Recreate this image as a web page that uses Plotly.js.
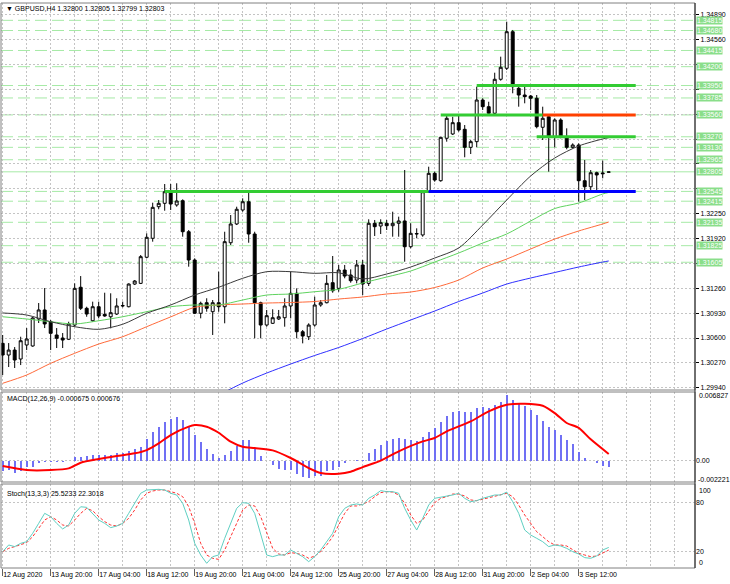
<!DOCTYPE html>
<html><head><meta charset="utf-8">
<script src="https://cdn.plot.ly/plotly-3.0.1.min.js"></script>
<style>html,body{margin:0;padding:0;background:#fff}#chart{width:730px;height:584px}</style>
</head><body><div id="chart"></div>
<script>
// ---------- DATA ----------
const symbolTitle = '\u25BC GBPUSD,H4 1.32800 1.32805 1.32799 1.32803';
const macdTitle = 'MACD(12,26,9) -0.000675 0.000676';
const stochTitle = 'Stoch(13,3,3) 25.5233 22.3018';
const timeLabels = ['12 Aug 2020','13 Aug 20:00','17 Aug 04:00','18 Aug 12:00','19 Aug 20:00','21 Aug 04:00','24 Aug 12:00','25 Aug 20:00','27 Aug 04:00','28 Aug 12:00','31 Aug 20:00','2 Sep 04:00','3 Sep 12:00'];

const open = [1.30529,1.30374,1.30440,1.30321,1.30507,1.30494,1.30852,1.30972,1.30816,1.30640,
1.30600,1.30583,1.30772,1.31273,1.30994,1.30829,1.31015,1.30914,1.30882,1.30918,
1.31025,1.31015,1.31316,1.31325,1.31671,1.31923,1.32342,1.32387,1.32541,1.32365,
1.32422,1.32010,1.31635,1.30928,1.31068,1.30949,1.31068,1.31015,1.31864,1.32113,
1.32298,1.32408,1.31980,1.31068,1.30772,1.30795,1.30852,1.30869,1.31025,1.31193,
1.30683,1.30617,1.30772,1.31038,1.31068,1.31334,1.31259,1.31502,1.31436,1.31369,
1.31569,1.31325,1.32122,1.32086,1.32122,1.32090,1.32122,1.32153,1.31811,1.31980,
1.31967,1.32541,1.32785,1.32687,1.33250,1.33307,1.33457,1.33369,1.33130,1.33205,
1.33758,1.33669,1.33582,1.34033,1.34179,1.34664,1.33913,1.33824,1.33811,1.33781,
1.33396,1.33536,1.33271,1.33493,1.33271,1.33130,1.33161,1.32687,1.32607,1.32793,
1.32790,1.32800];
const high = [1.30640,1.30533,1.30480,1.30617,1.30732,1.30882,1.31064,1.31263,1.30839,1.30732,
1.30666,1.30816,1.31325,1.31422,1.31015,1.31082,1.31082,1.31201,1.31193,1.31127,
1.31082,1.31325,1.31369,1.31701,1.31989,1.32395,1.32431,1.32643,1.32643,1.32653,
1.32440,1.32033,1.31657,1.31082,1.31127,1.31104,1.31480,1.32010,1.32232,1.32342,
1.32453,1.32528,1.32010,1.31082,1.30972,1.30981,1.30972,1.31127,1.31480,1.31259,
1.30706,1.30795,1.31148,1.31104,1.31436,1.31688,1.31569,1.31569,1.31511,1.31635,
1.31635,1.32175,1.32166,1.32175,1.32166,1.32276,1.32210,1.32829,1.32122,1.32055,
1.32564,1.32873,1.32807,1.33271,1.33546,1.33536,1.33546,1.33426,1.33227,1.33935,
1.33781,1.33735,1.34120,1.34333,1.34797,1.34687,1.33944,1.33957,1.33824,1.33824,
1.33669,1.33559,1.33515,1.33515,1.33382,1.33183,1.33183,1.32962,1.32829,1.32807,
1.32953,1.32805];
const low = [1.30109,1.30215,1.30202,1.30241,1.30440,1.30484,1.30799,1.30732,1.30440,1.30467,
1.30467,1.30573,1.30750,1.30972,1.30882,1.30816,1.30861,1.30882,1.30728,1.30905,
1.31007,1.31007,1.31303,1.31316,1.31657,1.31878,1.32308,1.32289,1.32298,1.32342,
1.31944,1.31546,1.30918,1.30861,1.30949,1.30640,1.30949,1.30795,1.31834,1.32099,
1.32276,1.31864,1.30596,1.30596,1.30750,1.30786,1.30839,1.30750,1.30861,1.30596,
1.30529,1.30573,1.30750,1.31015,1.31060,1.31201,1.31214,1.31392,1.31334,1.31325,
1.31170,1.31290,1.31953,1.31980,1.32033,1.31944,1.31944,1.31612,1.31790,1.31923,
1.31944,1.32528,1.32674,1.32674,1.33205,1.33294,1.33338,1.32998,1.33041,1.33130,
1.33625,1.33559,1.33559,1.34014,1.34156,1.33847,1.33669,1.33714,1.33625,1.33382,
1.33227,1.32807,1.33130,1.33250,1.33104,1.33117,1.32408,1.32431,1.32541,1.32541,
1.32719,1.32799];
const close = [1.30374,1.30440,1.30308,1.30564,1.30587,1.30865,1.30972,1.30786,1.30662,1.30596,
1.30573,1.30786,1.31259,1.30994,1.30918,1.31015,1.30892,1.30892,1.30936,1.31025,
1.31030,1.31316,1.31356,1.31679,1.31936,1.32334,1.32387,1.32541,1.32378,1.32418,
1.32010,1.31635,1.30928,1.31060,1.30994,1.31068,1.31015,1.31878,1.32113,1.32308,
1.32408,1.31980,1.31068,1.30772,1.30896,1.30869,1.30882,1.31025,1.31193,1.30683,
1.30626,1.30772,1.31038,1.31068,1.31325,1.31227,1.31502,1.31422,1.31360,1.31569,
1.31316,1.32122,1.32077,1.32130,1.32090,1.32122,1.32153,1.31811,1.31989,1.31985,
1.32541,1.32785,1.32696,1.33263,1.33515,1.33457,1.33360,1.33130,1.33205,1.33758,
1.33669,1.33582,1.34033,1.34192,1.34664,1.33935,1.33824,1.33802,1.33781,1.33404,
1.33515,1.33271,1.33493,1.33271,1.33130,1.33161,1.32687,1.32607,1.32793,1.32763,
1.32780,1.32803];

// moving averages read at sampled bars
const maIdx = [0,4,8,12,16,20,24,28,32,36,40,44,48,52,56,60,64,68,72,76,80,84,88,92,96,100,101];
const maBlack = [1.30932,1.30905,1.30816,1.30750,1.30715,1.30782,1.30928,1.31038,1.31170,1.31273,1.31392,1.31480,1.31480,1.31458,1.31466,1.31383,1.31449,1.31542,1.31661,1.31794,1.32099,1.32431,1.32750,1.32988,1.33148,1.33241,1.33258];
const maGreen = [1.30882,1.30852,1.30816,1.30786,1.30829,1.30882,1.30949,1.31015,1.31038,1.31038,1.31104,1.31170,1.31184,1.31214,1.31246,1.31330,1.31409,1.31489,1.31608,1.31728,1.31860,1.31980,1.32153,1.32318,1.32391,1.32511,1.32531];
const maOrange = [1.29999,1.30109,1.30264,1.30397,1.30520,1.30617,1.30750,1.30880,1.31007,1.31038,1.31051,1.31064,1.31071,1.31084,1.31117,1.31144,1.31184,1.31210,1.31270,1.31369,1.31529,1.31648,1.31781,1.31913,1.32020,1.32113,1.32139];
const maBlueIdx = [36,40,44,48,52,56,60,64,68,72,76,80,84,88,92,96,100,101];
const maBlue = [1.29843,1.30002,1.30135,1.30255,1.30368,1.30474,1.30593,1.30719,1.30839,1.30958,1.31084,1.31197,1.31316,1.31396,1.31469,1.31542,1.31608,1.31622];

// horizontal levels
const dashLevels = [1.34815,1.34680,1.34415,1.34200,1.33950,1.33785,1.33560,1.33270,1.33130,1.32965,1.32545,1.32415,1.32135,1.31825,1.31605];
const bidLevel = 1.32805;
const srPrice = [1.32545,1.32545,1.33560,1.33560,1.33950,1.33270];
const srFrom  = [27,71,73,90,79,89];
const srTo    = [71,105.5,90,105.5,105.5,105.5];
const srKind  = ['green','blue','green','red','green','green'];

// price axis ticks
const priceTick0 = 1.2994, priceTickStep = 0.0033, priceTickCount = 16;

// MACD
const macdHist = [-0.00100,-0.00094,-0.00127,-0.00100,-0.00067,-0.00067,-0.00027,-0.00013,-0.00010,-0.00013,
-0.00013,-0.00007,0.00034,0.00040,0.00047,0.00060,0.00060,0.00060,0.00057,0.00074,
0.00080,0.00094,0.00120,0.00141,0.00214,0.00285,0.00342,0.00392,0.00415,0.00436,
0.00409,0.00342,0.00258,0.00191,0.00114,0.00067,0.00027,0.00060,0.00100,0.00147,
0.00210,0.00210,0.00127,0.00050,0.00002,-0.00044,-0.00084,-0.00097,-0.00097,-0.00131,
-0.00164,-0.00174,-0.00157,-0.00151,-0.00107,-0.00090,-0.00064,-0.00023,-0.00007,0.00007,
0.00003,0.00077,0.00121,0.00161,0.00194,0.00218,0.00228,0.00218,0.00211,0.00198,
0.00238,0.00288,0.00328,0.00385,0.00452,0.00486,0.00503,0.00492,0.00492,0.00529,
0.00536,0.00533,0.00560,0.00586,0.00660,0.00610,0.00576,0.00549,0.00509,0.00459,
0.00402,0.00342,0.00308,0.00258,0.00211,0.00168,0.00090,0.00030,-0.00003,-0.00027,
-0.00054,-0.000675];
const macdSigIdx = [0,4,8,11,13,16,19,22,24,26,28,31,32,34,36,38,40,42,45,48,51,53,56,58,60,63,66,70,72,74,78,81,84,87,90,92,94,96,98,101];
const macdSig = [-0.00054,-0.00094,-0.00094,-0.00077,-0.00020,0.00017,0.00047,0.00074,0.00107,0.00174,
0.00258,0.00342,0.00358,0.00342,0.00281,0.00191,0.00140,0.00127,0.00104,0.00027,
-0.00074,-0.00124,-0.00131,-0.00111,-0.00064,0.00000,0.00094,0.00194,0.00228,0.00295,
0.00395,0.00496,0.00563,0.00573,0.00553,0.00479,0.00379,0.00330,0.00215,0.000676];
const macdMax = 0.006827, macdMin = -0.002221;

// Stochastic
const stochMain = [20.4,28.5,26.5,30.5,32.5,42.7,54.8,67,63,54.8,
48,52.8,67,75,74.3,67,58.9,54.8,49.6,51.6,
54.8,67,79.2,91.4,95.4,96.2,96.2,95.4,91.4,89.3,
79.2,58.9,30.5,16.3,6.2,14.3,16.3,36.6,54.8,73.1,
80,79.2,67,42.7,16.3,14.3,16.3,16.3,22.4,18.3,
14.3,8.2,14.3,22.4,32.5,42.7,63,73.1,77.1,78.4,
77.1,85.3,89.3,94.6,93.4,93.4,91.4,73.1,58.9,46.7,
60.9,77.1,85.3,86.5,87.3,89.3,91.4,85.3,81.2,82.4,
85.3,87.3,89.3,89.3,92.9,81.2,67,46.7,40.6,36.6,
32.5,26.5,28.5,27.3,24.4,20.4,17.5,13.1,12.3,15.1,
22.4,25.5233];
const stochSig = [20.4,24.4,26.5,28.5,31.3,38.6,48.8,58.9,63,58.9,
52.8,51.6,58.9,67,73.1,70.1,63,56.9,52.8,51.6,
54.8,60.9,71.1,83.3,91.4,94.2,95.4,95.4,93.4,91.4,
87.3,75.1,54.8,30.5,16.3,12.3,11,22.4,38.6,54.8,
71,77.1,76,63,42.7,24.4,17.5,16.3,19.1,18.3,
16.3,12.3,15.1,20.4,28.5,38.6,52.8,67,76,76,
78.4,81.2,87.3,92.2,93.4,92.9,89.3,79.2,65,54.8,
58.9,69,80,85.3,87.3,90.5,90.5,88.1,83.3,82.4,
84.1,86.5,88.1,89.3,91.4,87.3,77.1,65,54.8,44.6,
38.6,32.5,28.5,28.5,27.3,22.4,18.3,16.3,14.3,15.1,
18.3,22.3018];
const stochLevels = [20, 80];

// ---------- STYLE / LAYOUT ----------
const FONT = 'Liberation Sans, Arial, sans-serif';
const FS = 7;
const GRID = '#c4c4c4';
const GDASH = '2px,2px';
const srColors = {green:'#33cc33', blue:'#0000ff', red:'#ff4000'};
const xRange = [-0.28, 115.38];
const yRange = [1.29910, 1.35045];
const priceDom = [0.31504, 1], macdDom = [0.15221, 0.31150], stochDom = [0, 0.14867];

const bars = open.map((_, i) => i);
const gridStep = 4, labelEvery = 8;
const xTickVals = timeLabels.map((_, k) => k * labelEvery);
const xGridVals = [];
for (let v = 0; v <= xRange[1]; v += gridStep) xGridVals.push(v);

// price ticks; a tick label sitting under a level box is hidden by that box
const allLevels = dashLevels.concat([bidLevel]);
const pTickVals = [], pTickText = [];
for (let k = 0; k < priceTickCount; k++) {
  const v = +(priceTick0 + k * priceTickStep).toFixed(5);
  pTickVals.push(v);
  const covered = allLevels.some(l => Math.abs(l - v) < 0.00075);
  pTickText.push(covered ? '' : v.toFixed(5));
}

const traces = [];
traces.push({type:'candlestick', x:bars, open, high, low, close, xaxis:'x', yaxis:'y',
  increasing:{line:{color:'#000', width:1}, fillcolor:'#ffffff'},
  decreasing:{line:{color:'#000', width:1}, fillcolor:'#000000'},
  whiskerwidth:0, hoverinfo:'skip', showlegend:false});
const maLine = (x, y, c) => ({type:'scatter', mode:'lines', x, y, xaxis:'x', yaxis:'y',
  line:{color:c, width:1, shape:'spline', smoothing:0.8}, hoverinfo:'skip', showlegend:false});
traces.push(maLine(maBlueIdx, maBlue, '#3030ff'));
traces.push(maLine(maIdx, maOrange, '#ff6a3a'));
traces.push(maLine(maIdx, maGreen, '#5fd35f'));
traces.push(maLine(maIdx, maBlack, '#3a3a3a'));
srPrice.forEach((p, k) => traces.push({type:'scatter', mode:'lines', x:[srFrom[k], srTo[k]], y:[p, p],
  xaxis:'x', yaxis:'y', line:{color:srColors[srKind[k]], width:3}, hoverinfo:'skip', showlegend:false}));

traces.push({type:'bar', x:bars, y:macdHist, xaxis:'x', yaxis:'y2', width:0.36,
  marker:{color:'#7070f4', line:{width:0}}, hoverinfo:'skip', showlegend:false});
traces.push({type:'scatter', mode:'lines', x:macdSigIdx, y:macdSig, xaxis:'x', yaxis:'y2',
  line:{color:'#ff0000', width:2, shape:'spline', smoothing:0.7}, hoverinfo:'skip', showlegend:false});
traces.push({type:'scatter', mode:'lines', x:bars, y:stochSig, xaxis:'x', yaxis:'y3',
  line:{color:'#ff3030', width:1, dash:'3px,2px'}, hoverinfo:'skip', showlegend:false});
traces.push({type:'scatter', mode:'lines', x:bars, y:stochMain, xaxis:'x', yaxis:'y3',
  line:{color:'#5fcfc2', width:1}, hoverinfo:'skip', showlegend:false});

const shapes = [];
dashLevels.forEach(v => shapes.push({type:'line', xref:'paper', x0:0, x1:1, yref:'y', y0:v, y1:v,
  line:{color:'#a6eaa6', width:1, dash:'12px,5px'}, layer:'below'}));
shapes.push({type:'line', xref:'paper', x0:0, x1:1, yref:'y', y0:bidLevel, y1:bidLevel,
  line:{color:'#a6eaa6', width:1}, layer:'below'});
[priceDom, macdDom, stochDom].forEach(d => shapes.push({type:'rect', xref:'paper', yref:'paper',
  x0:0, x1:1, y0:d[0], y1:d[1], line:{color:'#808080', width:1}, fillcolor:'rgba(0,0,0,0)', layer:'above'}));
shapes.push({type:'line', xref:'paper', yref:'paper', x0:1, x1:1, y0:0, y1:1, line:{color:'#202020', width:1}, layer:'above'});

const annotations = [];
const txt = (text, x, y, xanchor, yanchor, extra) => Object.assign({text, x, y, xref:'paper', yref:'paper',
  xanchor, yanchor, showarrow:false, font:{family:FONT, size:FS, color:'#000'}}, extra || {});
annotations.push(txt(symbolTitle, 0.005, 0.9995, 'left', 'top'));
annotations.push(txt(macdTitle, 0.006, 0.3099, 'left', 'top'));
annotations.push(txt(stochTitle, 0.006, 0.1416, 'left', 'top'));
annotations.push(txt(macdMax.toFixed(6), 1, 0.30496, 'left', 'middle', {xshift:2}));
annotations.push(txt(macdMin.toFixed(6), 1, 0.15752, 'left', 'middle', {xshift:1}));
annotations.push(txt('100', 1, 0.13805, 'left', 'middle', {xshift:2}));
annotations.push(txt('0', 1, 0.00885, 'left', 'middle', {xshift:2}));
allLevels.forEach(v => annotations.push({text:v.toFixed(5), x:1, xref:'paper', y:v, yref:'y',
  xanchor:'left', yanchor:'middle', xshift:1, showarrow:false, bgcolor:'#8ade8a', borderpad:0,
  font:{family:FONT, size:FS, color:'#ffffff'}}));

const layout = {
  width:730, height:584, margin:{l:1, r:35, t:3, b:16, pad:0},
  paper_bgcolor:'#ffffff', plot_bgcolor:'#ffffff', showlegend:false,
  font:{family:FONT, size:FS, color:'#000'}, bargap:0,
  xaxis:{domain:[0,1], range:xRange, anchor:'y3', tickmode:'array', tickvals:xTickVals, ticktext:timeLabels,
    ticks:'outside', ticklen:7, tickcolor:'#606060', tickangle:0, ticklabelposition:'outside right', tickfont:{size:FS},
    showgrid:true, gridcolor:GRID, griddash:GDASH,
    minor:{tickmode:'array', tickvals:xGridVals, ticks:'', showgrid:true, gridcolor:GRID, griddash:GDASH},
    zeroline:false, showline:false, rangeslider:{visible:false}, fixedrange:true, automargin:false},
  yaxis:{domain:priceDom, range:yRange, side:'right', anchor:'x', tickmode:'array', tickvals:pTickVals, ticktext:pTickText,
    ticks:'outside', ticklen:3, tickcolor:'#000', tickfont:{size:FS}, showgrid:true, gridcolor:GRID,
    griddash:GDASH, zeroline:false, showline:false, fixedrange:true, automargin:false},
  yaxis2:{domain:macdDom, range:[-0.002141, 0.006907], side:'right', anchor:'x', tickmode:'array', tickvals:[0], ticktext:['0.00'],
    ticks:'', tickfont:{size:FS}, showgrid:true, gridcolor:GRID, griddash:GDASH, zeroline:false, showline:false, fixedrange:true, automargin:false},
  yaxis3:{domain:stochDom, range:[0.49, 102.7], side:'right', anchor:'x', tickmode:'array', tickvals:stochLevels,
    ticktext:stochLevels.map(String), ticks:'', tickfont:{size:FS}, showgrid:true, gridcolor:GRID, griddash:GDASH,
    zeroline:false, showline:false, fixedrange:true, automargin:false},
  shapes, annotations
};
Plotly.newPlot('chart', traces, layout, {displayModeBar:false, staticPlot:true});
</script></body></html>
